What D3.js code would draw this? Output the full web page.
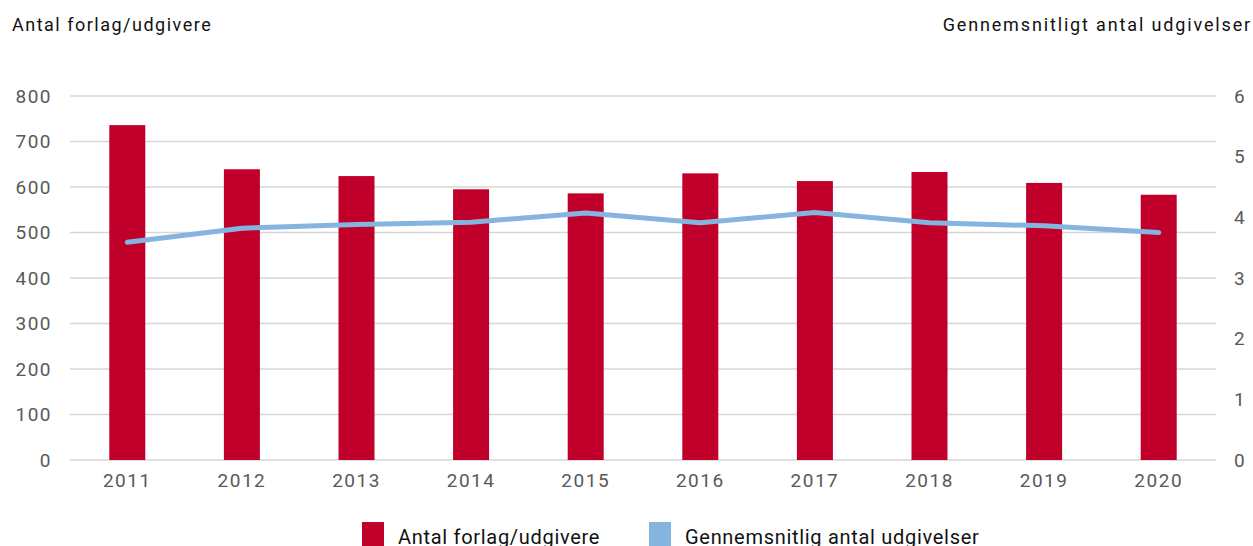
<!DOCTYPE html>
<html>
<head>
<meta charset="utf-8">
<script src="https://cdn.jsdelivr.net/npm/d3@7"></script>
<style>
  body { margin: 0; background: #fff; }
  text { font-family: Roboto, "DejaVu Sans", sans-serif; }
</style>
</head>
<body>
<script>

// data
var years = ["2011", "2012", "2013", "2014", "2015", "2016", "2017", "2018", "2019", "2020"];
var publishers = [736, 639, 624, 595, 586, 630, 613, 633, 609, 583];
var avgReleases = [3.59, 3.82, 3.88, 3.92, 4.07, 3.91, 4.08, 3.91, 3.86, 3.75];
var leftTicks = [0, 100, 200, 300, 400, 500, 600, 700, 800];
var rightTicks = [0, 1, 2, 3, 4, 5, 6];
var seriesNames = ["Antal forlag/udgivere", "Gennemsnitlig antal udgivelser"];

var W = 1253, H = 546;
var plot = {left: 70, right: 1216, top: 96, bottom: 460};

var svg = d3.select("body").append("svg")
    .attr("width", W)
    .attr("height", H);

var x = d3.scaleBand()
    .domain(years)
    .range([plot.left, plot.right]);

var y = d3.scaleLinear()
    .domain([0, 800])
    .range([plot.bottom, plot.top]);

var y2 = d3.scaleLinear()
    .domain([0, 6])
    .range([plot.bottom, plot.top]);

var color = d3.scaleOrdinal()
    .domain(seriesNames)
    .range(["#c0002b", "#85b5de"]);

// gridlines
svg.append("g")
    .attr("class", "grid")
  .selectAll("line")
    .data(leftTicks)
  .enter().append("line")
    .attr("x1", plot.left)
    .attr("x2", plot.right)
    .attr("y1", function(d) { return y(d); })
    .attr("y2", function(d) { return y(d); })
    .style("stroke", "#d6d6d6")
    .style("stroke-width", 1.6);

// left axis
var yAxis = d3.axisLeft(y).tickValues(leftTicks).tickSize(0).tickPadding(18);
var gy = svg.append("g")
    .attr("transform", "translate(" + plot.left + ",0)")
    .call(yAxis);
gy.select(".domain").remove();
gy.selectAll("text")
    .style("font-size", "19px")
    .style("letter-spacing", "1.5px")
    .style("fill", "#595959");

// right axis
var y2Axis = d3.axisRight(y2).tickValues(rightTicks).tickFormat(d3.format("d")).tickSize(0).tickPadding(18);
var gy2 = svg.append("g")
    .attr("transform", "translate(" + plot.right + ",0)")
    .call(y2Axis);
gy2.select(".domain").remove();
gy2.selectAll("text")
    .style("font-size", "19px")
    .style("fill", "#595959");

// x axis
var xAxis = d3.axisBottom(x).tickSize(0).tickPadding(14);
var gx = svg.append("g")
    .attr("transform", "translate(0," + plot.bottom + ")")
    .call(xAxis);
gx.select(".domain").remove();
gx.selectAll("text")
    .style("font-size", "19px")
    .style("letter-spacing", "1.5px")
    .style("fill", "#595959");

// bars
var barW = 36;
svg.selectAll(".bar")
    .data(publishers)
  .enter().append("rect")
    .attr("class", "bar")
    .attr("x", function(d, i) { return x(years[i]) + x.bandwidth() / 2 - barW / 2; })
    .attr("width", barW)
    .attr("y", function(d) { return y(d); })
    .attr("height", function(d) { return plot.bottom - y(d); })
    .style("fill", color(seriesNames[0]));

// line
var line = d3.line()
    .x(function(d, i) { return x(years[i]) + x.bandwidth() / 2; })
    .y(function(d) { return y2(d); });

svg.append("path")
    .datum(avgReleases)
    .attr("d", line)
    .style("fill", "none")
    .style("stroke", color(seriesNames[1]))
    .style("stroke-width", 5)
    .style("stroke-linecap", "round")
    .style("stroke-linejoin", "round");

// axis titles
svg.append("text")
    .attr("x", 12)
    .attr("y", 31)
    .style("font-size", "18px")
    .style("letter-spacing", "1.5px")
    .style("fill", "#111")
    .text("Antal forlag/udgivere");

svg.append("text")
    .attr("x", 1252)
    .attr("y", 31)
    .style("text-anchor", "end")
    .style("font-size", "18px")
    .style("letter-spacing", "1.85px")
    .style("fill", "#111")
    .text("Gennemsnitligt antal udgivelser");

// legend
var legendX = [362, 649];
var legend = svg.selectAll(".legend")
    .data(seriesNames)
  .enter().append("g")
    .attr("class", "legend")
    .attr("transform", function(d, i) { return "translate(" + legendX[i] + ",522)"; });

legend.append("rect")
    .attr("width", 22)
    .attr("height", 24)
    .style("fill", color);

legend.append("text")
    .attr("x", 36)
    .attr("y", 22)
    .style("font-size", "20px")
    .style("letter-spacing", "0.7px")
    .style("fill", "#111")
    .text(function(d) { return d; });

</script>
</body>
</html>
